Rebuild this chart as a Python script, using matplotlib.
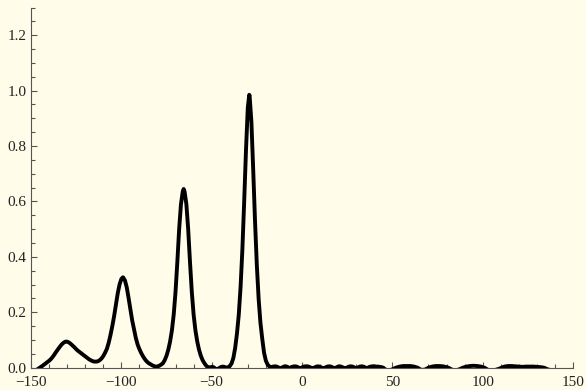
import matplotlib
matplotlib.use("Agg")
import matplotlib.pyplot as plt
from matplotlib.ticker import MultipleLocator, FixedLocator

# Spectrum samples: position and amplitude
x_vals = [
    -150, -148, -146, -145, -144, -143, -142, -141, -140, -139, -138, -137,
    -136, -135, -134, -133, -132, -131, -130, -129, -128, -127, -126, -125,
    -124, -123, -122, -121, -120, -119, -118, -117, -116, -115, -114, -113,
    -112, -111, -110, -109, -108, -107, -106, -105, -104, -103, -102, -101,
    -100, -99.2, -99, -98, -97, -96, -95, -94, -93, -92, -91, -90, -89, -88,
    -87, -86, -85, -84, -83, -82, -81, -80, -79, -78, -77, -76, -75, -74,
    -73, -72, -71, -70, -69, -68, -67, -66, -65.5, -65, -64, -63, -62, -61,
    -60, -59, -58, -57, -56, -55, -54, -53, -52, -51, -50, -49, -48, -47,
    -46, -45, -44, -43, -42, -41, -40, -39, -38, -37, -36, -35, -34, -33,
    -32, -31, -30, -29.2, -29, -28, -27, -26, -25, -24, -23, -22, -21, -20,
    -19, -18, -17, -16, -15, -14, -13, -12, -11, -10, -9, -8, -7, -6, -5,
    -4, -3, -2, -1, 0, 1, 2, 3, 4, 5, 6, 7, 8, 9, 10, 11, 12, 13, 14, 15,
    16, 17, 18, 19, 20, 21, 22, 23, 24, 25, 26, 27, 28, 29, 30, 31, 32, 33,
    34, 35, 36, 37, 38, 39, 40, 41, 42, 43, 44, 45, 46, 48, 50, 52, 54, 56,
    58, 60, 62, 64, 66, 68, 70, 72, 74, 76, 78, 80, 81, 83, 85, 87, 89, 91,
    93, 95, 97, 99, 101, 103, 106, 109, 110.5, 112, 114, 116, 118, 120, 122,
    124, 126, 128, 130, 132, 134, 136, 140, 144, 148, 150,
]
y_vals = [
    -0.030, -0.012, -0.004, 0.001, 0.005, 0.010, 0.015, 0.020, 0.025, 0.031,
    0.039, 0.048, 0.058, 0.067, 0.076, 0.084, 0.090, 0.094, 0.094, 0.091,
    0.086, 0.080, 0.074, 0.067, 0.061, 0.056, 0.051, 0.046, 0.041, 0.036,
    0.031, 0.027, 0.024, 0.022, 0.022, 0.023, 0.027, 0.033, 0.042, 0.054,
    0.068, 0.090, 0.118, 0.150, 0.186, 0.228, 0.268, 0.300, 0.320, 0.326,
    0.326, 0.315, 0.290, 0.252, 0.211, 0.171, 0.139, 0.108, 0.084, 0.067,
    0.053, 0.041, 0.031, 0.023, 0.017, 0.013, 0.009, 0.006, 0.004, 0.004,
    0.007, 0.011, 0.016, 0.027, 0.043, 0.065, 0.095, 0.135, 0.192, 0.274,
    0.382, 0.500, 0.590, 0.636, 0.645, 0.636, 0.590, 0.500, 0.382, 0.274,
    0.192, 0.135, 0.095, 0.065, 0.043, 0.027, 0.016, 0.007, 0.002, 0.000,
    0.003, 0.002, -0.003, -0.006, -0.002, 0.002, 0.004, 0.003, 0.000, 0.001,
    0.006, 0.015, 0.035, 0.071, 0.123, 0.191, 0.291, 0.427, 0.600, 0.786,
    0.938, 0.985, 0.982, 0.886, 0.713, 0.529, 0.370, 0.248, 0.162, 0.104,
    0.054, 0.025, 0.011, 0.004, 0.002, 0.004, 0.005, 0.004, 0.001, -0.004,
    0.001, 0.004, 0.005, 0.003, -0.003, 0.002, 0.004, 0.005, 0.004, 0.001,
    -0.003, 0.001, 0.004, 0.005, 0.005, 0.003, 0.000, -0.004, 0.001, 0.004,
    0.005, 0.003, 0.000, -0.004, 0.001, 0.004, 0.005, 0.004, 0.001, -0.004,
    0.001, 0.004, 0.005, 0.003, 0.000, -0.004, 0.001, 0.004, 0.005, 0.004,
    0.001, -0.004, 0.001, 0.004, 0.005, 0.004, 0.001, -0.003, 0.002, 0.004,
    0.005, 0.005, 0.004, 0.004, 0.003, 0.002, 0.000, -0.006, -0.010, -0.006,
    0.000, 0.004, 0.006, 0.006, 0.006, 0.004, 0.000, -0.008, -0.007, 0.000,
    0.004, 0.006, 0.006, 0.005, 0.002, 0.000, -0.007, -0.010, -0.006, 0.000,
    0.004, 0.006, 0.007, 0.006, 0.004, 0.000, -0.008, -0.010, -0.004, 0.000,
    0.004, 0.006, 0.006, 0.005, 0.004, 0.003, 0.004, 0.004, 0.004, 0.003,
    0.002, 0.000, -0.006, -0.012, -0.010, -0.008, -0.008,
]

x_ticks = [-150, -100, -50, 0, 50, 100, 150]
x_tick_labels = ["\u2212150", "\u2212100", "\u221250", "0", "50", "100", "150"]
y_ticks = [0.0, 0.2, 0.4, 0.6, 0.8, 1.0, 1.2]
y_tick_labels = ["0.0", "0.2", "0.4", "0.6", "0.8", "1.0", "1.2"]

bg = "#FFFCEA"
axis_col = "#555555"

plt.rcParams["font.family"] = ["Liberation Serif", "DejaVu Serif"]

fig = plt.figure(figsize=(5.86, 3.90), dpi=100, facecolor=bg)
ax = fig.add_axes([31 / 586, 22.3 / 390, 542 / 586, 360.2 / 390])
ax.set_facecolor(bg)

ax.plot(x_vals, y_vals, color="black", lw=2.8, solid_joinstyle="round",
        solid_capstyle="round", zorder=3)

ax.set_xlim(-150, 150)
ax.set_ylim(0, 1.3)

for s in ("top", "right"):
    ax.spines[s].set_visible(False)
for s in ("left", "bottom"):
    ax.spines[s].set_color(axis_col)
    ax.spines[s].set_linewidth(0.8)

ax.xaxis.set_major_locator(FixedLocator(x_ticks))
ax.set_xticklabels(x_tick_labels)
ax.xaxis.set_minor_locator(MultipleLocator(10))
ax.yaxis.set_major_locator(FixedLocator(y_ticks))
ax.set_yticklabels(y_tick_labels)
ax.yaxis.set_minor_locator(MultipleLocator(0.05))

ax.tick_params(which="both", direction="in", color=axis_col, width=0.8,
               labelsize=11, labelcolor="#222222")
ax.tick_params(which="major", length=4.3)
ax.tick_params(which="minor", length=2.6)
ax.tick_params(axis="x", which="major", pad=6)
ax.tick_params(axis="y", which="major", pad=3)

fig.savefig("out.png", dpi=100, facecolor=bg)
